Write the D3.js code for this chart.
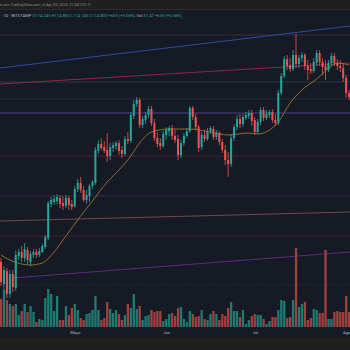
<!DOCTYPE html>
<html><head><meta charset="utf-8">
<script src="https://cdn.jsdelivr.net/npm/d3@7/dist/d3.min.js"></script>
<style>html,body{margin:0;padding:0;background:#1f1f1f;overflow:hidden}svg{display:block}</style>
</head><body><svg id="c" width="350" height="350"></svg>
<script>
// ---- data (daily candles, index 0 = start date) ----
const startDate = Date.UTC(2024, 3, 6);
const open  = [78,56,69,46,66,52,84,88,82,90,78,85,88,85,88,93,102,136,138,139,142,137,134,142,136,134,151,157,150,140,144,154,157,189,196,193,190,184,192,194,197,190,186,201,199,224,236,240,215,220,225,231,217,202,197,194,205,209,212,204,201,185,197,204,209,232,223,213,193,205,201,209,211,203,207,198,190,180,176,202,213,221,216,222,224,227,220,208,218,230,222,225,228,220,217,247,264,281,275,271,285,276,282,285,274,271,269,277,287,278,274,270,277,284,277,274,272,262,247];
const high  = [82,74,72,70,70,90,91,94,97,93,89,91,91,92,96,105,139,143,145,146,145,144,145,144,140,154,161,163,154,150,156,160,193,200,202,199,207,197,198,199,200,194,204,208,228,240,243,242,224,228,234,234,221,208,202,209,213,214,215,210,205,200,207,212,234,234,226,215,208,210,212,214,214,210,209,201,195,188,206,216,225,226,226,228,230,230,223,221,233,233,230,230,231,226,250,267,284,285,282,290,306,285,288,287,280,277,282,290,290,282,280,280,287,287,281,280,277,265,250];
const low   = [54,50,42,42,48,49,80,78,78,76,74,82,82,83,87,91,100,133,135,136,132,130,132,130,130,132,148,147,138,136,138,151,155,186,190,187,178,180,188,190,185,182,184,196,197,221,233,212,212,216,222,214,199,193,190,192,200,204,200,197,180,182,194,202,207,220,210,188,190,198,199,206,200,200,195,187,175,163,173,199,210,212,213,220,221,214,205,206,215,219,220,222,217,214,215,245,262,270,268,269,272,272,278,270,260,266,267,274,274,265,260,268,274,274,270,268,258,242,240];
const close = [58,70,46,66,53,85,88,82,91,80,86,88,85,89,94,103,137,140,141,143,136,134,142,135,133,151,157,150,140,145,154,158,190,196,192,189,184,193,195,197,189,186,201,199,225,236,240,215,221,225,231,217,202,196,194,206,210,212,204,200,185,197,204,209,232,223,213,192,205,201,209,212,203,207,198,190,180,176,202,213,221,216,223,225,227,219,208,218,230,222,226,228,220,217,247,264,281,274,271,285,276,282,285,274,270,269,278,287,278,273,270,277,284,277,274,272,262,247,243];
const volume = [28,37,27,23,21,23,12,16,23,15,21,15,5,8,7,29,38,33,16,31,7,7,21,12,19,23,17,9,7,13,14,17,31,17,7,9,25,18,14,17,13,7,12,23,19,33,18,21,7,11,12,17,15,16,16,6,8,13,14,11,19,20,8,5,16,13,10,11,17,8,7,13,16,13,7,13,11,19,25,16,16,10,17,3,7,11,13,12,12,8,3,6,10,10,17,27,26,9,10,27,79,20,23,25,7,9,18,17,14,14,77,8,8,15,16,15,15,31,15];
// moving average (read at sample days)
const maDay = [0,3,10,14,18,22,27,31,36,40,44,47,51,57,64,71,77,84,87,94,98,102,107,112,114,118];
const maVal = [85,80,75,77,88,104,124,139,158,170,184,197,208,211,211,208,205,207,206,218,237,250,261,274,277,275];
// month tick labels
const monthTicks = [Date.UTC(2024,4,1), Date.UTC(2024,5,1), Date.UTC(2024,6,1), Date.UTC(2024,7,1)];
const monthLabels = ["Mayo","Jun","Jul","Ago"];
// drawings: horizontal levels and trend lines (day, price)
const hLevels = [305, 258, 241, 227, 184, 144, 104];
const hColors = ["#3a2a33","#2a3836","#272c38","#4a3f8f","#4a2238","#3e2748","#4b2233"];
const trendA = [-0.4, 272, 118.4, 314];   // blue
const trendB = [-0.4, 256, 118.4, 277];   // crimson
const trendC = [-0.4, 119, 118.4, 128];   // brown
const trendD = [4.1, 62, 118.4, 88];      // purple
const dottedVol = 42;

const DAY = 86400000;
const dates = close.map((_, i) => new Date(startDate + i * DAY));
const day = k => new Date(startDate + k * DAY);

const W = 350, H = 350, plotTop = 10, plotBottom = 327;
const x = d3.scaleUtc().domain([day(0), day(117)]).range([1, 1 + 117 * 2.95]);
const y = d3.scaleLinear().domain([0, 340]).range([340, 0]);
const vy = d3.scaleLinear().domain([0, 80]).range([plotBottom, plotBottom - 80]);

const svg = d3.select("#c");
svg.append("rect").attr("width", W).attr("height", H).attr("fill", "#1f1f1f");
svg.append("rect").attr("x", 0).attr("y", plotTop).attr("width", W).attr("height", 337 - plotTop).attr("fill", "#161a25");
svg.append("line").attr("x1",0).attr("x2",W).attr("y1",plotTop-0.5).attr("y2",plotTop-0.5).attr("stroke","#2b2b2b");

svg.append("defs").append("clipPath").attr("id","clip").append("rect").attr("x",0).attr("y",plotTop).attr("width",W).attr("height",plotBottom-plotTop);
const g = svg.append("g").attr("clip-path","url(#clip)");

// horizontal levels
g.selectAll(".hl").data(hLevels).join("line")
  .attr("x1",0).attr("x2",W).attr("y1",d=>y(d)).attr("y2",d=>y(d))
  .attr("stroke",(d,i)=>hColors[i]).attr("stroke-width",1);
// dotted line in volume pane
g.append("line").attr("x1",0).attr("x2",W).attr("y1",vy(dottedVol)).attr("y2",vy(dottedVol))
  .attr("stroke","#363a48").attr("stroke-dasharray","1,2");

const trend = (t, col, w) => g.append("line")
  .attr("x1", x(day(t[0]))).attr("y1", y(t[1])).attr("x2", x(day(t[2]))).attr("y2", y(t[3]))
  .attr("stroke", col).attr("stroke-width", w);
trend(trendA, "#2f4ea3", 1.1);
trend(trendB, "#8a2a4c", 1.1);
trend(trendC, "#6e4a4a", 1.1);
trend(trendD, "#5b2d7c", 1.1);

// volume bars
const up = i => close[i] >= open[i];
g.selectAll(".v").data(volume).join("rect")
  .attr("x",(d,i)=>x(dates[i])-1.1).attr("width",2.3)
  .attr("y",d=>vy(d)).attr("height",d=>plotBottom-vy(d))
  .attr("fill",(d,i)=>up(i)?"#1f7a72":"#a2403f");

// MA line
g.append("path").datum(maDay.map((d,i)=>[d,maVal[i]]))
  .attr("fill","none").attr("stroke","#8d6f2f").attr("stroke-width",1)
  .attr("d", d3.line().x(d=>x(day(d[0]))).y(d=>y(d[1])).curve(d3.curveMonotoneX));

// candles
const cg = g.selectAll(".c").data(close).join("g");
cg.append("line")
  .attr("x1",(d,i)=>x(dates[i])).attr("x2",(d,i)=>x(dates[i]))
  .attr("y1",(d,i)=>y(high[i])).attr("y2",(d,i)=>y(low[i]))
  .attr("stroke",(d,i)=>up(i)?"#26a69a":"#ef5350").attr("stroke-width",0.8);
cg.append("rect")
  .attr("x",(d,i)=>x(dates[i])-1).attr("width",2)
  .attr("y",(d,i)=>y(Math.max(open[i],close[i])))
  .attr("height",(d,i)=>Math.max(0.8, Math.abs(y(open[i])-y(close[i]))))
  .attr("fill",(d,i)=>up(i)?"#26a69a":"#ef5350");

// time axis
const ax = svg.append("g").attr("transform",`translate(0,${plotBottom})`)
  .call(d3.axisBottom(x).tickValues(monthTicks).tickFormat((d,i)=>monthLabels[i]).tickSize(0).tickPadding(4));
ax.select(".domain").remove();
ax.selectAll("text").attr("fill","#b2b5be").attr("font-size","4.2px").attr("font-family","Roboto, sans-serif");

// header texts
svg.append("text").attr("x",0).attr("y",6).attr("fill","#8c8c8c").attr("font-size","3.9px")
  .attr("font-family","Roboto, sans-serif").text("o con TradingView.com, el Apr 03, 2025 21:04 UTC-3");
const t2 = svg.append("text").attr("x",1).attr("y",16.5).attr("font-size","4.2px").attr("font-family","Roboto, sans-serif");
t2.append("tspan").attr("fill","#b2b5be").text("· 1D · BITSTAMP ");
t2.append("tspan").attr("fill","#26a69a").text("O114.245 H114.800 L114.145 C114.800 +659 (+0.58%) ");
t2.append("tspan").attr("fill","#b2b5be").text("Vol ");
t2.append("tspan").attr("fill","#26a69a").text("51.47 +659 (+0.58%)");
</script></body></html>
